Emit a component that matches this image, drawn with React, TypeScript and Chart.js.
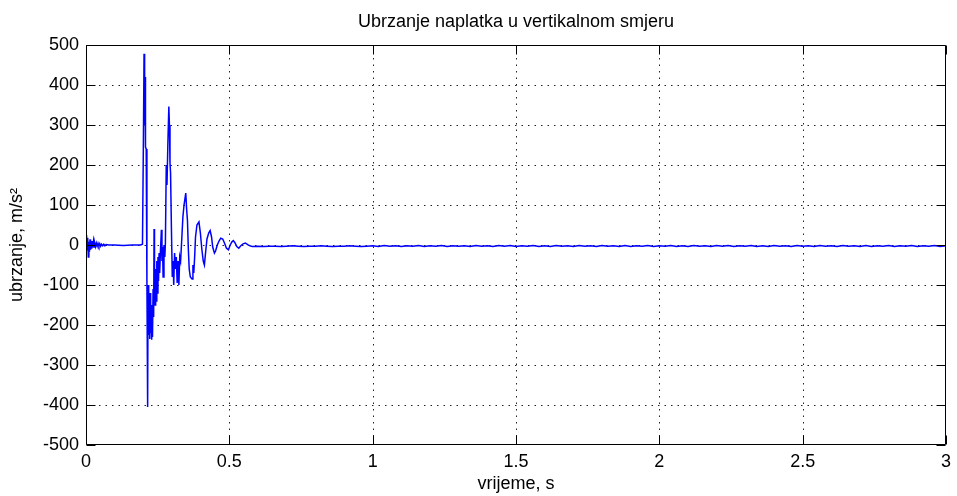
import React, { useEffect, useRef } from "react";
import { Chart, registerables } from "chart.js";

Chart.register(...registerables);

const TITLE = "Ubrzanje naplatka u vertikalnom smjeru";
const X_LABEL = "vrijeme, s";
const Y_LABEL = "ubrzanje, m/s²";
const X_TICKS = [0, 0.5, 1, 1.5, 2, 2.5, 3];
const Y_TICKS = [-500, -400, -300, -200, -100, 0, 100, 200, 300, 400, 500];

// Impact part of the record (time in s, acceleration in m/s^2)
const eventTimes = [
  0.0, 0.002, 0.004, 0.006, 0.008, 0.01, 0.012, 0.014, 0.016, 0.018, 0.02, 0.022, 0.024, 0.026, 0.028,
  0.03, 0.033, 0.036, 0.039, 0.042, 0.045, 0.048, 0.051, 0.054, 0.058, 0.062, 0.066, 0.07, 0.08, 0.1,
  0.13, 0.16, 0.19, 0.197, 0.2, 0.2025, 0.2045, 0.206, 0.2075, 0.21, 0.2125, 0.215, 0.2165, 0.218,
  0.2195, 0.221, 0.2225, 0.224, 0.2255, 0.227, 0.2285, 0.23, 0.232, 0.234, 0.236, 0.2375, 0.239, 0.241,
  0.243, 0.245, 0.247, 0.249, 0.251, 0.253, 0.255, 0.257, 0.26, 0.263, 0.265, 0.267, 0.269, 0.272,
  0.275, 0.277, 0.28, 0.2825, 0.2855, 0.289, 0.291, 0.293, 0.295, 0.298, 0.301, 0.304, 0.306, 0.309,
  0.312, 0.315, 0.318, 0.321, 0.324, 0.327, 0.33, 0.333, 0.338, 0.342, 0.348, 0.351, 0.354, 0.357, 0.36,
  0.364, 0.37, 0.373, 0.376, 0.379, 0.382, 0.387, 0.394, 0.399, 0.404, 0.409, 0.413, 0.417, 0.422,
  0.428, 0.433, 0.438, 0.442, 0.448, 0.452, 0.458, 0.464, 0.47, 0.477, 0.483, 0.49, 0.497, 0.503,
  0.509, 0.514, 0.52, 0.526, 0.533, 0.54, 0.548, 0.556, 0.564, 0.572, 0.58,
];
const eventValues = [
  25, 5, -12, 18, -30, 8, -17, 14, -12, 9, -9, 10, -6, 8, -5,
  6, -4, 5, -3, 4, -3, 3, -3, 2, -2, 2, -2, 1, 0, 0,
  -1, 0, 0, 2, 240, 478, 300, 420, 245, 240, -90, -405, -100, -150,
  -225, -140, -235, -120, -220, -160, -237, -150, -230, -110, -180, 40, -80, -150,
  -60, -140, -40, -120, -30, -90, -20, -70, -10, 38, -40, -5, -80, 0,
  -30, 5, 200, 150, 250, 346, 300, 205, 180, 40, -80, -40, -100, -20,
  -60, -30, -95, -40, -100, -30, -40, 0, 70, 100, 130, 90, 60, -10, -60,
  -80, -85, -50, -70, -30, 20, 50, 58, 30, -10, -40, -50, -20, 15,
  30, 36, 20, -5, -20, -15, 0, 10, 17, 15, 5, -8, -12, 0,
  8, 11, 5, -4, -8, -2, 3, 5, 1, -2, -4,
];

// Residual vibration, sampled every TAIL_STEP seconds from TAIL_START (0.60 ... 3.00 s)
const TAIL_START = 0.6;
const TAIL_STEP = 0.02;
const tailValues = [
  -3, -4, -3, -3, -4, -3, -2, -3, -4, -3, -3, -2, -3, -4, -3, -3, -2, -3, -4, -3,
  -2, -4, -1, -3, -2, -4, -2, -3, -1, -4, -2, -3, -1, -4, -2, -3, -2, -4, -1, -3,
  -2, -4, -1, -3, -1, -4, -2, -3, -1, -4, -2, -4, -1, -3, -2, -4, -1, -3, -2, -4,
  -1, -3, -2, -4, -1, -4, -2, -3, -1, -4, -2, -3, -1, -4, -2, -4, -1, -3, -2, -4,
  -1, -3, -1, -4, -2, -3, -1, -4, -2, -4, -1, -3, -2, -4, -1, -3, -2, -4, -1, -3,
  -2, -4, -1, -3, -2, -4, -1, -4, -2, -3, -1, -4, -2, -3, -1, -4, -2, -3, -1, -4,
  -2,
];

const FONT_FAMILY = '"Liberation Sans", Arial, Helvetica, sans-serif';
const FONT_SIZE = 18;

const matlabAxes = {
  id: "matlabAxes",
  beforeDatasetsDraw(chart: any) {
    const { ctx, chartArea, scales } = chart;
    const { left, right, top, bottom } = chartArea;
    ctx.save();
    ctx.strokeStyle = "#222";
    ctx.lineWidth = 1;
    ctx.setLineDash([1.5, 5]);
    for (const t of X_TICKS) {
      const px = Math.round(scales.x.getPixelForValue(t)) + 0.5;
      if (px <= left + 1 || px >= right - 1) continue;
      ctx.beginPath();
      ctx.moveTo(px, top);
      ctx.lineTo(px, bottom);
      ctx.stroke();
    }
    for (const v of Y_TICKS) {
      const py = Math.round(scales.y.getPixelForValue(v)) + 0.5;
      if (py <= top + 1 || py >= bottom - 1) continue;
      ctx.beginPath();
      ctx.moveTo(left, py);
      ctx.lineTo(right, py);
      ctx.stroke();
    }
    ctx.restore();
  },
  afterDatasetsDraw(chart: any) {
    const { ctx, chartArea, scales } = chart;
    const { left, right, top, bottom } = chartArea;
    const L = Math.round(left) + 0.5;
    const R = Math.round(right) - 0.5;
    const T = Math.round(top) + 0.5;
    const B = Math.round(bottom) - 0.5;
    const tick = 9;
    ctx.save();
    ctx.strokeStyle = "#000";
    ctx.lineWidth = 1;
    ctx.setLineDash([]);
    ctx.beginPath();
    ctx.rect(L, T, R - L, B - T);
    ctx.stroke();
    ctx.beginPath();
    for (const t of X_TICKS) {
      const px = Math.round(scales.x.getPixelForValue(t)) + 0.5;
      ctx.moveTo(px, B);
      ctx.lineTo(px, B - tick);
      ctx.moveTo(px, T);
      ctx.lineTo(px, T + tick);
    }
    for (const v of Y_TICKS) {
      const py = Math.round(scales.y.getPixelForValue(v)) + 0.5;
      ctx.moveTo(L, py);
      ctx.lineTo(L + tick, py);
      ctx.moveTo(R, py);
      ctx.lineTo(R - tick, py);
    }
    ctx.stroke();
    // title
    ctx.fillStyle = "#000";
    ctx.font = `${FONT_SIZE}px ${FONT_FAMILY}`;
    ctx.textAlign = "center";
    ctx.textBaseline = "middle";
    ctx.fillText(TITLE, (left + right) / 2, 22);
    ctx.restore();
  },
};

export default function App() {
  const canvasRef = useRef<HTMLCanvasElement | null>(null);

  useEffect(() => {
    const canvas = canvasRef.current;
    if (!canvas) return;
    const points: { x: number; y: number }[] = [];
    eventTimes.forEach((t, i) => points.push({ x: t, y: eventValues[i] }));
    tailValues.forEach((v, i) => points.push({ x: TAIL_START + i * TAIL_STEP, y: v }));

    const font = { family: FONT_FAMILY, size: FONT_SIZE };

    const chart = new Chart(canvas, {
      type: "line",
      data: {
        datasets: [
          {
            data: points,
            borderColor: "#0000ff",
            borderWidth: 1.5,
            pointRadius: 0,
            tension: 0,
            fill: false,
          },
        ],
      },
      options: {
        animation: false,
        responsive: false,
        events: [],
        layout: { padding: { left: 0, right: 7, top: 45, bottom: 0 } },
        plugins: {
          legend: { display: false },
          tooltip: { enabled: false },
          title: { display: false },
        },
        scales: {
          x: {
            type: "linear",
            min: 0,
            max: 3,
            afterBuildTicks: (s: any) => {
              s.ticks = X_TICKS.map((v) => ({ value: v }));
            },
            afterFit: (s: any) => {
              s.height = 51;
            },
            ticks: {
              color: "#000",
              font,
              padding: 6,
              maxRotation: 0,
              autoSkip: false,
              callback: (v: any) => String(v),
            },
            grid: { display: false, drawTicks: false },
            border: { display: false },
            title: {
              display: true,
              text: X_LABEL,
              color: "#000",
              font,
              padding: { top: 0, bottom: 1 },
            },
          },
          y: {
            type: "linear",
            min: -500,
            max: 500,
            afterBuildTicks: (s: any) => {
              s.ticks = Y_TICKS.map((v) => ({ value: v }));
            },
            afterFit: (s: any) => {
              s.width = 86;
            },
            ticks: {
              color: "#000",
              font,
              padding: 7,
              autoSkip: false,
              callback: (v: any) => String(v),
            },
            grid: { display: false, drawTicks: false },
            border: { display: false },
            title: {
              display: true,
              text: Y_LABEL,
              color: "#000",
              font,
              padding: { top: 6, bottom: 0 },
            },
          },
        },
      },
      plugins: [matlabAxes],
    } as any);

    return () => chart.destroy();
  }, []);

  return (
    <div style={{ position: "fixed", left: 0, top: 0, width: 957, height: 496, background: "#fff" }}>
      <canvas ref={canvasRef} width={957} height={496} style={{ width: 957, height: 496, display: "block" }} />
    </div>
  );
}
